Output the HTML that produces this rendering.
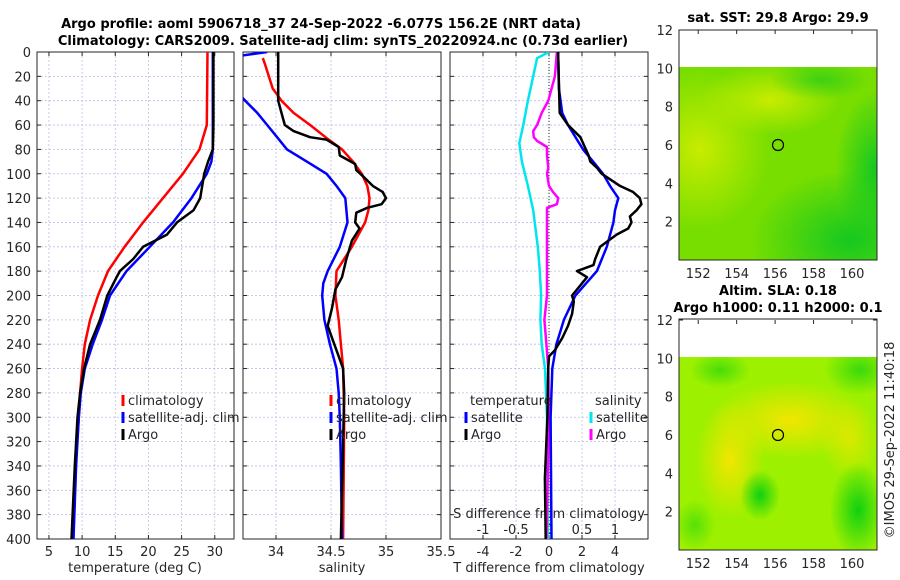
<!DOCTYPE html>
<html><head><meta charset="utf-8"><style>
body{margin:0;background:#fff}
svg{display:block;font-family:"DejaVu Sans","Liberation Sans",sans-serif}
.t{font-size:13px;fill:#262626}
.b{font-size:13px;font-weight:bold;fill:#000}
</style></head><body>
<svg id="c" width="900" height="580" viewBox="0 0 900 580">
<defs>
<clipPath id="cp1"><rect x="37" y="52" width="197" height="487"/></clipPath>
<clipPath id="cp2"><rect x="243" y="52" width="198" height="487"/></clipPath>
<clipPath id="cp3"><rect x="450" y="52" width="198" height="487"/></clipPath>
<clipPath id="cm1"><rect x="679" y="67" width="198" height="193"/></clipPath>
<clipPath id="cm2"><rect x="679" y="357" width="198" height="193"/></clipPath>
<radialGradient id="ry1" cx="0.5" cy="0.5" r="0.5"><stop offset="0" stop-color="#c8ec00"/><stop offset="1" stop-color="#c8ec00" stop-opacity="0"/></radialGradient>
<radialGradient id="rg1" cx="0.5" cy="0.5" r="0.5"><stop offset="0" stop-color="#14c820"/><stop offset="1" stop-color="#14c820" stop-opacity="0"/></radialGradient>
<radialGradient id="ry2" cx="0.5" cy="0.5" r="0.5"><stop offset="0" stop-color="#f2e600"/><stop offset="1" stop-color="#f2e600" stop-opacity="0"/></radialGradient>
<radialGradient id="rg2" cx="0.5" cy="0.5" r="0.5"><stop offset="0" stop-color="#10d010"/><stop offset="1" stop-color="#10d010" stop-opacity="0"/></radialGradient>
</defs>
<text class="b" x="321" y="28" text-anchor="middle">Argo profile: aoml 5906718_37 24-Sep-2022 -6.077S 156.2E (NRT data)</text>
<text class="b" x="343" y="45" text-anchor="middle">Climatology: CARS2009. Satellite-adj clim: synTS_20220924.nc (0.73d earlier)</text>
<g id="axes"></g>
<g id="maps">
 <g clip-path="url(#cm1)">
 <rect x="679" y="67" width="198" height="193" fill="#78de00"/>
 <ellipse cx="700" cy="150" rx="70" ry="80" fill="url(#ry1)"/>
 <ellipse cx="770" cy="100" rx="70" ry="35" fill="url(#ry1)"/>
 <ellipse cx="850" cy="240" rx="100" ry="70" fill="url(#rg1)"/>
 <ellipse cx="875" cy="170" rx="40" ry="80" fill="url(#rg1)"/>
 <ellipse cx="820" cy="80" rx="50" ry="20" fill="url(#rg1)" opacity="0.6"/>
 </g>
 <circle cx="778" cy="145" r="5.5" fill="none" stroke="#000" stroke-width="1.2"/>
 <rect x="679" y="30" width="198" height="230" fill="none" stroke="#262626"/>
 <text class="b" x="778" y="22" text-anchor="middle">sat. SST: 29.8 Argo: 29.9</text>
 <g clip-path="url(#cm2)">
 <rect x="679" y="357" width="198" height="193" fill="#9cf000"/>
 <ellipse cx="790" cy="420" rx="80" ry="40" fill="url(#ry2)"/>
 <ellipse cx="730" cy="460" rx="35" ry="60" fill="url(#ry2)"/>
 <ellipse cx="850" cy="440" rx="30" ry="40" fill="url(#ry2)" opacity="0.7"/>
 <ellipse cx="858" cy="510" rx="28" ry="48" fill="url(#rg2)"/>
 <ellipse cx="760" cy="495" rx="20" ry="25" fill="url(#rg2)"/>
 <ellipse cx="720" cy="370" rx="30" ry="18" fill="url(#rg2)" opacity="0.6"/>
 <ellipse cx="860" cy="370" rx="35" ry="25" fill="url(#rg2)" opacity="0.7"/>
 <ellipse cx="695" cy="525" rx="20" ry="25" fill="url(#rg2)" opacity="0.5"/>
 </g>
 <circle cx="778" cy="435" r="5.5" fill="none" stroke="#000" stroke-width="1.2"/>
 <rect x="679" y="319" width="198" height="231" fill="none" stroke="#262626"/>
 <text class="b" x="778" y="295" text-anchor="middle">Altim. SLA: 0.18</text>
 <text class="b" x="778" y="312" text-anchor="middle">Argo h1000: 0.11 h2000: 0.1</text>
</g>
<text class="t" transform="translate(894,440) rotate(-90)" text-anchor="middle">©IMOS 29-Sep-2022 11:40:18</text>
</svg>
<script>
// ---- data ----
const depthTicks=[0,20,40,60,80,100,120,140,160,180,200,220,240,260,280,300,320,340,360,380,400];
const tTicks=[5,10,15,20,25,30];
const sTicks=[34,34.5,35,35.5];
const sGridTicks=[34,34.5,35];
const dTicks=[-4,-2,0,2,4];
const sdTickLabels=["-1","-0.5","0","0.5","1"];
const sdTicks=[-1,-0.5,0,0.5,1];
const mapYTicks=[2,4,6,8,10,12];
const mapXTicks=[152,154,156,158,160];

const climTDepth=[0,60,80,100,120,140,160,180,200,220,240,260,280,300,340,400];
const climT=[28.9,28.8,27.7,25.2,22.2,19.2,16.4,13.9,12.4,11.2,10.4,10.0,9.7,9.5,9.0,8.5];
const satTDepth=[0,60,80,90,100,120,140,160,180,200,220,240,260,280,300,340,400];
const satT=[29.7,29.7,29.7,29.5,28.8,26.5,23.7,20.2,16.7,14.2,13.0,11.6,10.4,9.8,9.5,9.1,8.7];
const argoTDepth=[0,60,80,90,100,120,130,140,150,160,170,180,185,200,220,240,260,280,300,340,400];
const argoT=[29.8,29.8,29.7,29.0,28.4,27.8,26.8,24.3,22.8,19.2,17.7,15.7,15.2,13.8,12.7,11.2,10.3,9.7,9.3,8.9,8.4];

const climSDepth=[5,10,30,40,50,60,70,80,90,100,110,120,130,140,150,160,180,200,220,240,260,300,400];
const climS=[33.88,33.9,33.97,34.05,34.16,34.31,34.45,34.6,34.7,34.78,34.83,34.85,34.84,34.81,34.75,34.69,34.55,34.54,34.57,34.59,34.61,34.62,34.61];
const satSDepth=[0,4,10,25,36,40,50,60,70,80,90,100,110,120,140,160,180,190,200,220,240,260,280,300,340,400];
const satS=[33.92,33.6,33.3,33.3,33.68,33.72,33.83,33.92,34.01,34.1,34.28,34.46,34.55,34.63,34.65,34.58,34.47,34.43,34.42,34.44,34.49,34.55,34.57,34.58,34.59,34.6];
const argoSDepth=[0,40,50,60,65,70,72,78,85,92,97,102,110,115,120,125,128,132,140,145,155,170,185,195,210,225,240,260,280,320,400];
const argoS=[34.02,34.02,34.05,34.08,34.16,34.31,34.46,34.57,34.58,34.72,34.73,34.79,34.88,34.97,35.0,34.96,34.83,34.73,34.72,34.76,34.69,34.64,34.6,34.54,34.51,34.47,34.53,34.61,34.62,34.61,34.59];

const satSdDepth=[0,5,20,40,60,75,90,110,130,160,180,200,220,240,260,300,400];
const satSd=[0,-0.18,-0.24,-0.32,-0.39,-0.45,-0.41,-0.32,-0.24,-0.17,-0.14,-0.12,-0.13,-0.11,-0.06,-0.03,-0.02];
const argoSdDepth=[0,20,40,50,60,65,70,73,78,85,95,100,110,115,120,125,128,135,145,160,200,220,240,260,300,400];
const argoSd=[0.12,0.09,-0.01,-0.11,-0.18,-0.24,-0.23,-0.18,-0.03,-0.03,-0.01,-0.03,0.0,0.06,0.14,0.12,-0.03,-0.03,-0.03,-0.03,-0.03,-0.07,-0.04,-0.01,0.0,-0.04];
const satTdDepth=[0,30,50,60,80,90,100,110,120,130,140,160,180,200,220,240,260,300,400];
const satTd=[0.55,0.6,0.8,1.15,2.06,2.67,3.27,3.7,4.2,4.0,3.9,3.5,2.9,1.6,0.9,0.45,0.2,0.1,0.15];
const argoTdDepth=[0,50,60,70,85,90,95,100,110,115,120,125,130,135,140,145,150,160,170,175,180,185,200,205,215,225,235,245,250,260,300,350,400];
const argoTd=[0.55,0.65,1.15,1.9,2.4,2.5,2.9,3.2,4.3,5.1,5.5,5.6,5.3,4.9,5.0,4.8,4.1,3.1,2.8,2.7,1.7,2.3,1.4,1.5,1.4,1.15,0.8,0.35,0.0,-0.05,-0.1,-0.25,-0.2];

// ---- scales ----
const Y0=52,Y1=539;
const yD=d=>Y0+d*(Y1-Y0)/400;
const xT=t=>37+(t-3.2)*(197/29.7);
const xS=s=>243+(s-33.7)*(198/1.8);
const xTd=t=>450+(t+6)*(198/12);
const xSd=s=>xTd(s*4);
const NS="http://www.w3.org/2000/svg";
const root=document.getElementById('axes');
function el(tag,attrs,parent){const e=document.createElementNS(NS,tag);for(const k in attrs)e.setAttribute(k,attrs[k]);(parent||root).appendChild(e);return e;}
function txt(x,y,s,anchor,parent){const e=el('text',{x:x,y:y,class:'t','text-anchor':anchor||'middle'},parent);e.textContent=s;return e;}

function panel(x0,w,gridX,xf,name){
  const g=el('g',{});
  
  
  depthTicks.forEach(d=>{if(d>0&&d<400)el('line',{x1:x0,x2:x0+w,y1:yD(d),y2:yD(d),stroke:'#b8bfe6','stroke-width':0.8,'stroke-dasharray':'2,2'},g);});
  gridX.forEach(v=>el('line',{x1:xf(v),x2:xf(v),y1:Y0,y2:Y1,stroke:'#b8bfe6','stroke-width':0.8,'stroke-dasharray':'2,2'},g));
  depthTicks.forEach(d=>{el('line',{x1:x0,x2:x0+4,y1:yD(d),y2:yD(d),stroke:'#262626'},g);el('line',{x1:x0+w-4,x2:x0+w,y1:yD(d),y2:yD(d),stroke:'#262626'},g);});
  gridX.forEach(v=>{el('line',{x1:xf(v),x2:xf(v),y1:Y1,y2:Y1-4,stroke:'#262626'},g);el('line',{x1:xf(v),x2:xf(v),y1:Y0,y2:Y0+4,stroke:'#262626'},g);});
  el('rect',{x:x0,y:Y0,width:w,height:Y1-Y0,fill:'none',stroke:'#262626'},g);
  return g;
}
function line(depths,vals,xf,color,clip,name,w){
  const p=el('polyline',{points:depths.map((d,i)=>xf(vals[i]).toFixed(1)+','+yD(d).toFixed(1)).join(' '),fill:'none',stroke:color,'stroke-width':w||2.5,'stroke-linejoin':'round','clip-path':'url(#'+clip+')'});
  
  
}
function legend(x,y,color,label,name){
  const g=el('g',{});
  
  
  el('line',{x1:x,x2:x,y1:y-10,y2:y+1,stroke:color,'stroke-width':3},g);
  txt(x+5,y,label,'start',g);
}

panel(37,197,tTicks,xT,'temperature-axes');
depthTicks.forEach(d=>{const t=txt(31,yD(d)+5,String(d),'end');});
tTicks.forEach(v=>txt(xT(v),556,String(v)));
txt(135,572,'temperature (deg C)');
line(climTDepth,climT,xT,'#ff0000','cp1','temperature-climatology-line');
line(satTDepth,satT,xT,'#0000ff','cp1','temperature-satellite-line');
line(argoTDepth,argoT,xT,'#000000','cp1','temperature-argo-line');
legend(123,405,'#ff0000','climatology','legend-climatology');
legend(123,422,'#0000ff','satellite-adj. clim','legend-satellite');
legend(123,439,'#000000','Argo','legend-argo');

panel(243,198,sGridTicks,xS,'salinity-axes');
sTicks.forEach(v=>txt(xS(v),556,String(v)));
txt(342,572,'salinity');
line(climSDepth,climS,xS,'#ff0000','cp2','salinity-climatology-line');
line(satSDepth,satS,xS,'#0000ff','cp2','salinity-satellite-line');
line(argoSDepth,argoS,xS,'#000000','cp2','salinity-argo-line');
legend(331,405,'#ff0000','climatology','legend-climatology-s');
legend(331,422,'#0000ff','satellite-adj. clim','legend-satellite-s');
legend(331,439,'#000000','Argo','legend-argo-s');

panel(450,198,dTicks,xTd,'difference-axes');
el('line',{x1:xTd(0),x2:xTd(0),y1:Y0,y2:Y1,stroke:'#333','stroke-width':1,'stroke-dasharray':'1,2'});
dTicks.forEach(v=>txt(xTd(v),556,String(v)));
txt(549,572,'T difference from climatology');
txt(549,518,'S difference from climatology');
sdTicks.forEach((v,i)=>txt(xSd(v),534,sdTickLabels[i]));
line(satSdDepth,satSd,xSd,'#00e5ee','cp3','s-diff-satellite-line');
line(argoSdDepth,argoSd,xSd,'#ff00ff','cp3','s-diff-argo-line');
line(satTdDepth,satTd,xTd,'#0000ff','cp3','t-diff-satellite-line');
line(argoTdDepth,argoTd,xTd,'#000000','cp3','t-diff-argo-line');
txt(470,405,'temperature','start');
txt(595,405,'salinity','start');
legend(466,422,'#0000ff','satellite','legend-t-satellite');
legend(466,439,'#000000','Argo','legend-t-argo');
legend(591,422,'#00e5ee','satellite','legend-s-satellite');
legend(591,439,'#ff00ff','Argo','legend-s-argo');

function mapAxes(top){
  const yM=v=>top+230-v*(230/12);
  const xM=v=>679+(v-151)*(198/10.3);
  mapYTicks.forEach(v=>{txt(673,yM(v)+5,String(v),'end');el('line',{x1:679,x2:683,y1:yM(v),y2:yM(v),stroke:'#262626'});el('line',{x1:873,x2:877,y1:yM(v),y2:yM(v),stroke:'#262626'});});
  mapXTicks.forEach(v=>{txt(xM(v),top+248,String(v));el('line',{x1:xM(v),x2:xM(v),y1:top+230,y2:top+226,stroke:'#262626'});el('line',{x1:xM(v),x2:xM(v),y1:top,y2:top+4,stroke:'#262626'});});
}
mapAxes(30);
mapAxes(320);
</script>
</body></html>
